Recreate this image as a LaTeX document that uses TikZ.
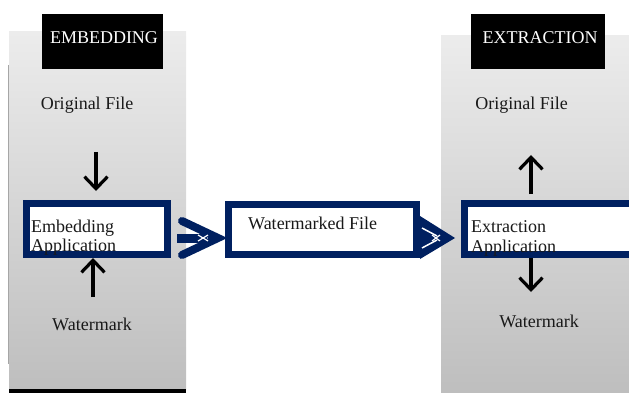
\documentclass[tikz,border=0pt]{standalone}
\usepackage{fontspec}
\setmainfont{Liberation Serif}
\usetikzlibrary{arrows.meta,calc}
\definecolor{navy}{RGB}{0,32,96}
\definecolor{gtop}{RGB}{236,236,236}
\definecolor{gbot}{RGB}{190,190,190}
\tikzset{
  panel/.style={draw=none,top color=gtop,bottom color=gbot},
  blackbox/.style={fill=black,draw=none},
  hdr/.style={text=white,anchor=base,inner sep=0pt},
  lbl/.style={anchor=base,inner sep=0pt,text=black!90},
  lbll/.style={anchor=base west,inner sep=0pt,text=black!90},
  appbox/.style={draw=navy,fill=white,line width=6.8pt},
  blackarrow/.style={draw=black,line width=3.2pt,-{Straight Barb[length=12pt,width=23pt]}},
  navyline/.style={draw=navy,line width=8pt,line cap=round,line join=miter},
}
\begin{document}
\begin{tikzpicture}[x=1pt,y=-1pt,font=\fontsize{18}{20}\selectfont]
\useasboundingbox (0,0) rectangle (629,393);
% panels
\fill[panel] (9,32) rectangle (186,389);
\fill[black] (9,388.5) rectangle (186,393);
\draw[gray!70,line width=0.6pt] (8,65) -- (8,364);
\fill[panel] (441,36) rectangle (629,393);
% header boxes
\fill[blackbox] (42,14) rectangle (163,69);
\node[hdr] (hemb) at (104,44) {EMBEDDING};
\fill[blackbox] (471,14) rectangle (605,69);
\node[hdr] (hext) at (540,44) {EXTRACTION};
% labels
\node[lbl] (of1) at (87,110) {Original File};
\node[lbl] (wmk1) at (92,330) {Watermark};
\node[lbl] (of2) at (521.5,110) {Original File};
\node[lbl] (wmk2) at (539,327) {Watermark};
% application boxes
\draw[appbox] (26.5,203.5) rectangle (167.5,254.5);
\node[lbll] (emb1) at (31,232) {Embedding};
\node[lbll] (emb2) at (31,251) {Application};
\coordinate (embE) at (171,238);
\draw[appbox] (228.5,204.3) rectangle (416.5,254.8);
\node[lbll] (wmf) at (248,229) {Watermarked File};
\coordinate (wmW) at (225,238);
\coordinate (wmE) at (420,238);
\draw[appbox] (464.5,203.5) rectangle (645,254.5);
\node[lbll] (ext1) at (471,232) {Extraction};
\node[lbll] (ext2) at (471,252) {Application};
\coordinate (extW) at (461,238);
% black arrows
\coordinate (a1s) at (96,152); \coordinate (a1e) at (96,191);
\coordinate (a2s) at (93,297); \coordinate (a2e) at (93,258);
\coordinate (a3s) at (531,194); \coordinate (a3e) at (531,155);
\coordinate (a4s) at (531,258); \coordinate (a4e) at (531,292);
\draw[blackarrow] (a1s) -- (a1e);
\draw[blackarrow] (a2s) -- (a2e);
\draw[blackarrow] (a3s) -- (a3e);
\draw[blackarrow] (a4s) -- (a4e);
% navy arrow 1: embedding -> watermarked file
\draw[navyline,line cap=butt,line width=9pt] ($(embE)+(6,0)$) -- ($(embE)+(36,0)$);
\draw[navyline] ($(embE)+(11,-17)$) -- ($(wmW)+(-7,0)$) -- ($(embE)+(11,17)$);
\draw[white,line width=1.2pt] ($(embE)+(27,-3)$) -- ($(embE)+(37,3)$) ($(embE)+(27,3)$) -- ($(embE)+(37,-3)$);
% navy arrow 2: watermarked file -> extraction
\fill[navy] ($(wmE)+(0,-22)$) -- ($(extW)+(-6,0)$) -- ($(wmE)+(0,21)$) -- cycle;
\draw[white,line width=1.5pt] ($(wmE)+(2,-10)$) -- ($(wmE)+(17,-2)$) ($(wmE)+(2,10)$) -- ($(wmE)+(17,2)$);
\draw[white,line width=1.2pt] ($(wmE)+(12,-3)$) -- ($(wmE)+(20,3)$) ($(wmE)+(12,3)$) -- ($(wmE)+(20,-3)$);
\end{tikzpicture}
\end{document}
